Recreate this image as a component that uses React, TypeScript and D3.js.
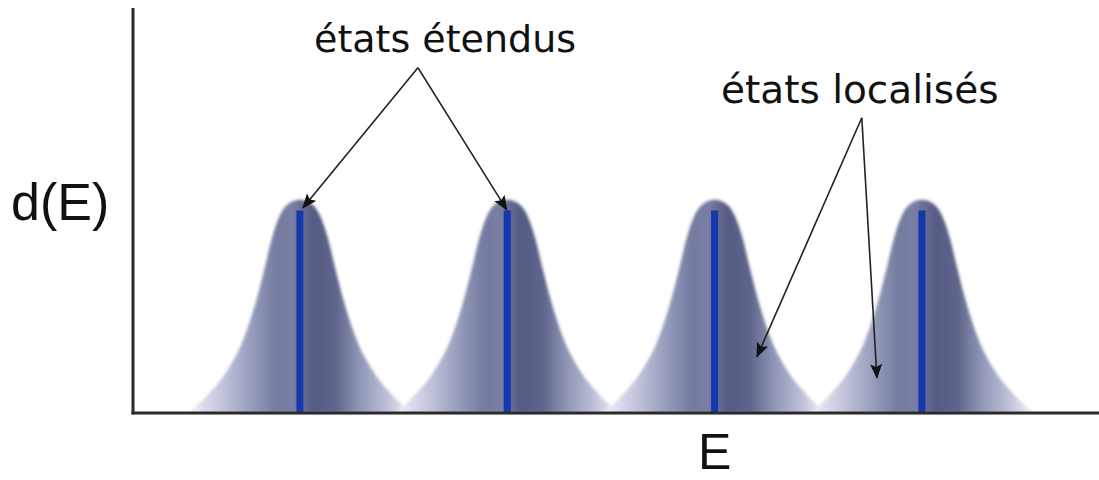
import React from "react";
import * as d3 from "d3";

// Energy levels (centres of the density-of-states bands)
const bandCenters = [1, 2, 3, 4];
const bandHeights = [1, 1, 1, 1];
// Half-profile of one band: offset from centre (energy units) vs relative height
const profileOffsets = [0, 0.05, 0.1, 0.135, 0.17, 0.21, 0.275, 0.35, 0.45, 0.54];
const profileValues = [1.0, 0.985, 0.92, 0.82, 0.68, 0.53, 0.34, 0.2, 0.08, 0.0];
// Extended-state level marked inside each band
const levelHeights = [0.95, 0.95, 0.95, 0.95];

// Annotations: label position, arrow origin, arrow targets (data coordinates)
const annotationLabels = ["états étendus", "états localisés"];
const annotationTextPos: [number, number][] = [[1.70, 1.695], [3.70, 1.452]];
const annotationOrigins: [number, number][] = [[1.569, 1.62], [3.71, 1.385]];
const annotationTargets: [number, number][][] = [
  [[1.014, 0.962], [1.998, 0.953]],
  [[3.204, 0.263], [3.783, 0.164]],
];

const axisLabelY = "d(E)";
const axisLabelX = "E";

const W = 1099;
const H = 480;

export default function App() {
  const x = d3.scaleLinear().domain([0.195, 4.854]).range([133, 1099]);
  const y = d3.scaleLinear().domain([0, 1.9]).range([413, 8]);

  const area = d3
    .area<[number, number]>()
    .x((d) => x(d[0]))
    .y0(y(0))
    .y1((d) => y(d[1]))
    .curve(d3.curveMonotoneX);

  const bandPoints = (c: number, h: number): [number, number][] => {
    const left = profileOffsets
      .map((o, i) => [c - o, profileValues[i] * h] as [number, number])
      .reverse();
    const right = profileOffsets
      .slice(1)
      .map((o, i) => [c + o, profileValues[i + 1] * h] as [number, number]);
    return [...left, ...right];
  };

  const halfSpan = profileOffsets[profileOffsets.length - 1];

  const stops: [number, string][] = [
    [0.0, "#f2f3f8"],
    [0.14, "#c5c8de"],
    [0.3, "#9197b7"],
    [0.4, "#737a9e"],
    [0.47, "#7a80a5"],
    [0.5, "#6a7098"],
    [0.56, "#555b83"],
    [0.66, "#5f658b"],
    [0.76, "#8d93b3"],
    [0.88, "#b9bdd6"],
    [1.0, "#f2f3f8"],
  ];

  return (
    <svg
      width={W}
      height={H}
      style={{ position: "absolute", left: 0, top: 0, background: "#fff" }}
    >
      <defs>
        {bandCenters.map((c, i) => (
          <linearGradient
            key={i}
            id={`band-grad-${i}`}
            gradientUnits="userSpaceOnUse"
            x1={x(c - halfSpan)}
            x2={x(c + halfSpan)}
            y1={0}
            y2={0}
          >
            {stops.map(([o, col], j) => (
              <stop key={j} offset={o} stopColor={col} />
            ))}
          </linearGradient>
        ))}
        <filter id="soft" x="-20%" y="-20%" width="140%" height="140%">
          <feGaussianBlur stdDeviation="1.8" />
        </filter>
        <filter id="softLine" x="-50%" y="-5%" width="200%" height="110%">
          <feGaussianBlur stdDeviation="0.6" />
        </filter>
        <marker
          id="arrowhead"
          markerUnits="userSpaceOnUse"
          markerWidth={16}
          markerHeight={14}
          refX={14}
          refY={6}
          orient="auto"
        >
          <path d="M0,0 L15,6 L0,12 L3,6 Z" fill="#111" />
        </marker>
      </defs>

      {/* density-of-states bands */}
      <g filter="url(#soft)">
        {bandCenters.map((c, i) => (
          <path
            key={i}
            d={area(bandPoints(c, bandHeights[i])) || ""}
            fill={`url(#band-grad-${i})`}
          />
        ))}
      </g>

      {/* extended-state levels */}
      <g filter="url(#softLine)">
        {bandCenters.map((c, i) => (
          <line
            key={i}
            x1={x(c)}
            x2={x(c)}
            y1={y(0)}
            y2={y(levelHeights[i])}
            stroke="#1437ad"
            strokeWidth={7}
          />
        ))}
      </g>

      {/* axes */}
      <line x1={x.range()[0]} x2={x.range()[0]} y1={y.range()[1]} y2={y(0) + 1.5} stroke="#2b2b2b" strokeWidth={3} />
      <line x1={x.range()[0] - 1.5} x2={x.range()[1]} y1={y(0)} y2={y(0)} stroke="#2b2b2b" strokeWidth={3} />

      {/* annotations */}
      {annotationLabels.map((label, i) => (
        <g key={i}>
          <text
            x={x(annotationTextPos[i][0])}
            y={y(annotationTextPos[i][1])}
            textAnchor="middle"
            fontFamily="DejaVu Sans"
            fontSize={i === 0 ? 38 : 39}
            fill="#111"
          >
            {label}
          </text>
          {annotationTargets[i].map((t, j) => (
            <line
              key={j}
              x1={x(annotationOrigins[i][0])}
              y1={y(annotationOrigins[i][1])}
              x2={x(t[0])}
              y2={y(t[1])}
              stroke="#222"
              strokeWidth={1.6}
              markerEnd="url(#arrowhead)"
            />
          ))}
        </g>
      ))}

      {/* axis titles */}
      <text x={11} y={220} fontFamily="Liberation Sans" fontSize={52} fill="#111">
        {axisLabelY}
      </text>
      <text
        x={x(bandCenters[2])}
        y={469}
        textAnchor="middle"
        fontFamily="Liberation Sans"
        fontSize={50}
        fill="#111"
      >
        {axisLabelX}
      </text>
    </svg>
  );
}
